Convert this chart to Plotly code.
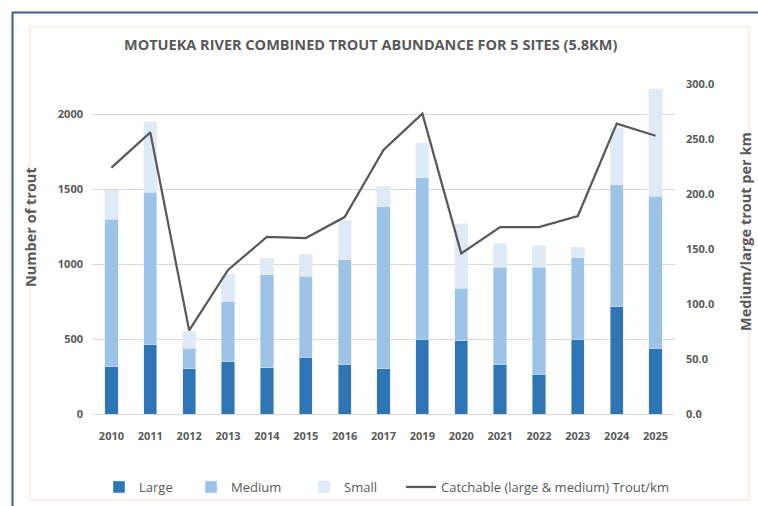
import plotly.graph_objects as go

years = ['2010', '2011', '2012', '2013', '2014', '2015', '2016', '2017',
         '2019', '2020', '2021', '2022', '2023', '2024', '2025']
large = [315, 464, 302, 351, 307, 380, 331, 302, 498, 489, 331, 264, 498, 716, 438]
medium = [985, 1014, 136, 400, 620, 540, 696, 1080, 1078, 349, 647, 714, 544, 811, 1015]
small = [193, 471, 115, 180, 113, 144, 266, 138, 228, 429, 160, 144, 69, 383, 711]
catchable_per_km = [224, 256, 76, 131, 161, 160, 179, 240, 273, 146, 170, 170, 180, 264, 253]

left_ticks = [0, 500, 1000, 1500, 2000]

W, H = 758, 506
ML, MR, MT, MB = 92, 83, 84, 92
PW = W - ML - MR
PH = H - MT - MB

def px_to_paper_x(px):
    return (px - ML) / PW

def py_to_paper_y(py):
    return (H - MB - py) / PH

GRAY = '#595959'
FONT = 'Open Sans'

fig = go.Figure()
fig.add_trace(go.Bar(x=years, y=large, name='Large', marker_color='#2E75B6',
                     legend='legend'))
fig.add_trace(go.Bar(x=years, y=medium, name='Medium', marker_color='#9DC3E6',
                     legend='legend2'))
fig.add_trace(go.Bar(x=years, y=small, name='Small', marker_color='#DEEBF7',
                     legend='legend3'))
fig.add_trace(go.Scatter(x=years, y=catchable_per_km, yaxis='y2', mode='lines',
                         name='Catchable (large & medium) Trout/km',
                         line=dict(color=GRAY, width=2.25), legend='legend4'))

legend_common = dict(orientation='h', yanchor='middle', xanchor='left',
                     xref='container', yref='container',
                     y=1 - 487 / H, bgcolor='rgba(0,0,0,0)',
                     font=dict(family=FONT, size=13, color=GRAY),
                     itemwidth=30)

fig.update_layout(
    width=W, height=H,
    margin=dict(l=ML, r=MR, t=MT, b=MB, autoexpand=False),
    paper_bgcolor='white', plot_bgcolor='white',
    barmode='stack', bargap=0.66,
    showlegend=True,
    legend=dict(x=99 / W, **legend_common),
    legend2=dict(x=191 / W, **legend_common),
    legend3=dict(x=304 / W, **legend_common),
    legend4=dict(x=401 / W, **legend_common),
    font=dict(family=FONT, color=GRAY),
    xaxis=dict(type='category', showgrid=False, showline=False, ticks='',
               automargin=False, ticklabelstandoff=14,
               tickfont=dict(family=FONT, size=11, color=GRAY, weight='bold')),
    yaxis=dict(range=[0, 2200], tickvals=left_ticks, showgrid=True,
               gridcolor='#D9D9D9', gridwidth=1, zeroline=True,
               zerolinecolor='#D9D9D9', zerolinewidth=1, automargin=False,
               tickfont=dict(family=FONT, size=11, color=GRAY, weight='bold'),
               ticklabelstandoff=8),
    yaxis2=dict(range=[0, 300], dtick=50, tickformat='.1f', overlaying='y',
                side='right', showgrid=False, zeroline=False, automargin=False,
                tickfont=dict(family=FONT, size=11, color=GRAY, weight='bold'),
                ticklabelstandoff=10),
    shapes=[
        dict(type='rect', xref='paper', yref='paper',
             x0=px_to_paper_x(30), x1=px_to_paper_x(749),
             y0=py_to_paper_y(500), y1=py_to_paper_y(27),
             line=dict(color='#FCEFE6', width=2), layer='below'),
        dict(type='line', xref='paper', yref='paper',
             x0=px_to_paper_x(12), x1=px_to_paper_x(758),
             y0=py_to_paper_y(12.5), y1=py_to_paper_y(12.5),
             line=dict(color='#3A5F8F', width=2)),
        dict(type='line', xref='paper', yref='paper',
             x0=px_to_paper_x(12.5), x1=px_to_paper_x(12.5),
             y0=py_to_paper_y(12), y1=py_to_paper_y(506),
             line=dict(color='#3A5F8F', width=2)),
    ],
    annotations=[
        dict(text='MOTUEKA RIVER COMBINED TROUT ABUNDANCE FOR 5 SITES (5.8KM)',
             xref='paper', yref='paper', x=px_to_paper_x(370), y=py_to_paper_y(44),
             xanchor='center', yanchor='middle', showarrow=False,
             font=dict(family=FONT, size=14.5, color=GRAY, weight='bold')),
        dict(text='Number of trout', xref='paper', yref='paper',
             x=px_to_paper_x(30), y=py_to_paper_y(227), textangle=-90,
             xanchor='center', yanchor='middle', showarrow=False,
             font=dict(family=FONT, size=14.5, color=GRAY, weight='bold')),
        dict(text='Medium/large trout per km', xref='paper', yref='paper',
             x=px_to_paper_x(745), y=py_to_paper_y(232), textangle=-90,
             xanchor='center', yanchor='middle', showarrow=False,
             font=dict(family=FONT, size=14.5, color=GRAY, weight='bold')),
    ],
)

fig.write_html('out.html', config={'displayModeBar': False},
               post_script="document.body.style.margin='0';")
